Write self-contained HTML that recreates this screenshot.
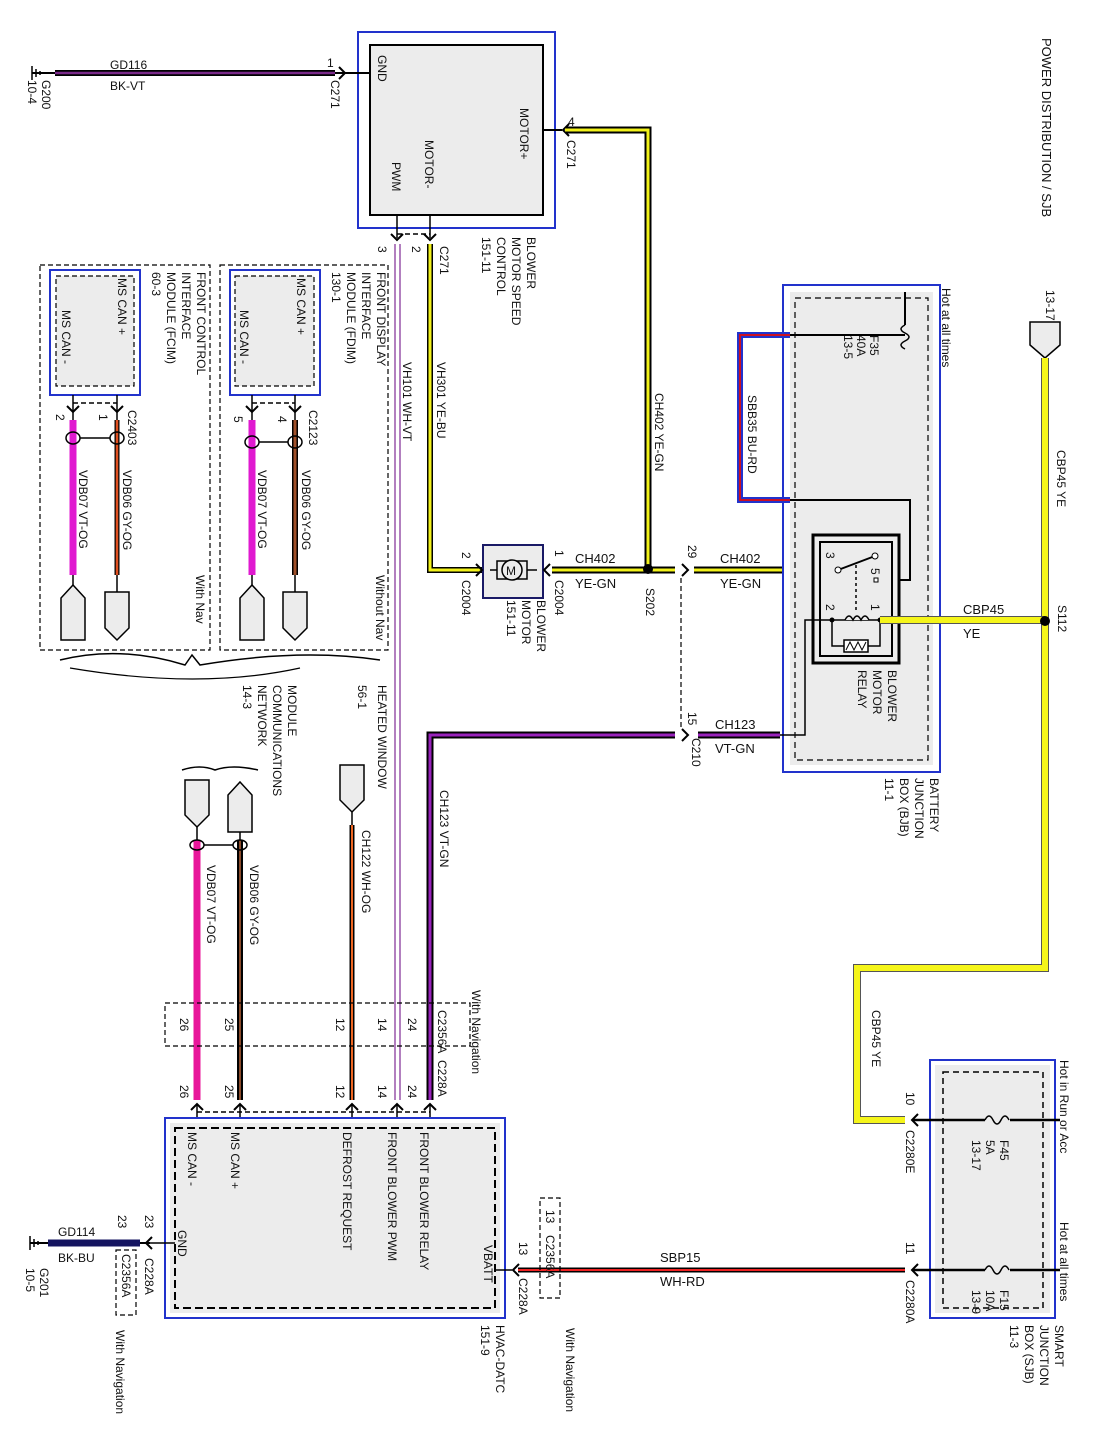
<!DOCTYPE html>
<html><head><meta charset="utf-8"><style>
html,body{margin:0;padding:0;background:#fff}
svg{display:block}
text{font-family:"Liberation Sans",sans-serif;font-size:12px;fill:#111}
.b{font-size:13px}
</style></head><body>
<svg width="1093" height="1449" viewBox="0 0 1093 1449" xmlns="http://www.w3.org/2000/svg">
<defs>
<g id="arr"><path d="M-6,-6 L0,0 L6,-6" fill="none" stroke="#000" stroke-width="2"/></g>
</defs>

<rect x="358" y="32" width="197" height="196" fill="#fff" stroke="#2233cc" stroke-width="2"/>
<rect x="370" y="45" width="173" height="170" fill="#ececec" stroke="#000" stroke-width="2"/>
<line x1="32" y1="66" x2="32" y2="80" stroke="#000" stroke-width="1.5"/>
<line x1="36" y1="69" x2="36" y2="77" stroke="#000" stroke-width="1.5"/>
<line x1="40" y1="71" x2="40" y2="75" stroke="#000" stroke-width="1.5"/>
<line x1="32" y1="73" x2="60" y2="73" stroke="#000" stroke-width="2"/>
<line x1="55" y1="73" x2="335" y2="73" stroke="#000" stroke-width="6"/>
<line x1="55" y1="73" x2="335" y2="73" stroke="#7a2a8a" stroke-width="2.5"/>
<line x1="335" y1="73" x2="370" y2="73" stroke="#000" stroke-width="2"/>
<path d="M339,67 L345,73 L339,79" fill="none" stroke="#000" stroke-width="2"/>
<text x="110" y="69">GD116</text><text x="110" y="90">BK-VT</text>
<text x="327" y="67">1</text>
<text transform="translate(42,80) rotate(90)">G200</text>
<text transform="translate(28,80) rotate(90)">10-4</text>
<text transform="translate(331,80) rotate(90)">C271</text>
<text transform="translate(378,55) rotate(90)">GND</text>
<text transform="translate(520,108) rotate(90)">MOTOR+</text>
<text transform="translate(425,140) rotate(90)">MOTOR-</text>
<text transform="translate(392,162) rotate(90)">PWM</text>
<text transform="translate(527,237) rotate(90)">BLOWER</text>
<text transform="translate(512,237) rotate(90)">MOTOR SPEED</text>
<text transform="translate(497,237) rotate(90)">CONTROL</text>
<text transform="translate(482,237) rotate(90)">151-11</text>
<line x1="543" y1="130" x2="562" y2="130" stroke="#000" stroke-width="2"/>
<path d="M569,124 L563,130 L569,136" fill="none" stroke="#000" stroke-width="2"/>
<path d="M565,130 L648,130 L648,568" fill="none" stroke="#000" stroke-width="7"/>
<path d="M565,130 L648,130 L648,568" fill="none" stroke="#f2f21a" stroke-width="3"/>
<text x="568" y="126">4</text>
<text transform="translate(567,140) rotate(90)">C271</text>
<text transform="translate(655,393) rotate(90)">CH402   YE-GN</text>
<line x1="397" y1="215" x2="397" y2="238" stroke="#000" stroke-width="1.5"/>
<line x1="430" y1="215" x2="430" y2="238" stroke="#000" stroke-width="1.5"/>
<use href="#arr" x="397" y="240"/><use href="#arr" x="430" y="240"/>
<line x1="397" y1="234" x2="430" y2="234" stroke="#000" stroke-width="1.5" stroke-dasharray="5,3"/>
<text transform="translate(378,246) rotate(90)">3</text>
<text transform="translate(412,246) rotate(90)">2</text>
<text transform="translate(440,246) rotate(90)">C271</text>
<path d="M430,244 L430,570 L483,570" fill="none" stroke="#000" stroke-width="6"/>
<path d="M430,244 L430,570 L483,570" fill="none" stroke="#f2f21a" stroke-width="3"/>
<text transform="translate(437,362) rotate(90)">VH301   YE-BU</text>
<line x1="395" y1="244" x2="395" y2="1100" stroke="#9955aa" stroke-width="1.5"/>
<line x1="400" y1="244" x2="400" y2="1100" stroke="#9955aa" stroke-width="1.5"/>
<text transform="translate(403,362) rotate(90)">VH101   WH-VT</text>

<rect x="220" y="265" width="168" height="385" fill="none" stroke="#000" stroke-width="1.2" stroke-dasharray="5,3"/>
<rect x="40" y="265" width="170" height="385" fill="none" stroke="#000" stroke-width="1.2" stroke-dasharray="5,3"/>
<rect x="230" y="270" width="90" height="125" fill="#fff" stroke="#2233cc" stroke-width="2"/>
<rect x="235" y="276" width="79" height="110" fill="#ececec" stroke="#000" stroke-width="1.2" stroke-dasharray="5,3"/>
<rect x="50" y="270" width="90" height="125" fill="#fff" stroke="#2233cc" stroke-width="2"/>
<rect x="56" y="276" width="78" height="110" fill="#ececec" stroke="#000" stroke-width="1.2" stroke-dasharray="5,3"/>
<text transform="translate(297,278) rotate(90)">MS CAN +</text>
<text transform="translate(240,310) rotate(90)">MS CAN -</text>
<text transform="translate(118,278) rotate(90)">MS CAN +</text>
<text transform="translate(62,310) rotate(90)">MS CAN -</text>
<text transform="translate(377,272) rotate(90)">FRONT DISPLAY</text>
<text transform="translate(362,272) rotate(90)">INTERFACE</text>
<text transform="translate(347,272) rotate(90)">MODULE (FDIM)</text>
<text transform="translate(332,272) rotate(90)">130-1</text>
<text transform="translate(197,272) rotate(90)">FRONT CONTROL</text>
<text transform="translate(182,272) rotate(90)">INTERFACE</text>
<text transform="translate(167,272) rotate(90)">MODULE (FCIM)</text>
<text transform="translate(152,272) rotate(90)">60-3</text>
<g stroke="#000" stroke-width="1.5" fill="none">
<line x1="252" y1="395" x2="252" y2="585"/><line x1="295" y1="395" x2="295" y2="592"/>
<line x1="73" y1="395" x2="73" y2="585"/><line x1="117" y1="395" x2="117" y2="592"/>
<line x1="252" y1="403" x2="295" y2="403" stroke-dasharray="5,3"/>
<line x1="73" y1="403" x2="117" y2="403" stroke-dasharray="5,3"/>
</g>
<use href="#arr" x="252" y="412"/><use href="#arr" x="295" y="412"/>
<use href="#arr" x="73" y="412"/><use href="#arr" x="117" y="412"/>
<line x1="252" y1="420" x2="252" y2="575" stroke="#e01ad0" stroke-width="7"/>
<line x1="295" y1="420" x2="295" y2="575" stroke="#000" stroke-width="6"/>
<line x1="295" y1="420" x2="295" y2="575" stroke="#a0502a" stroke-width="3"/>
<line x1="73" y1="420" x2="73" y2="575" stroke="#e01ad0" stroke-width="7"/>
<line x1="117" y1="420" x2="117" y2="575" stroke="#000" stroke-width="5"/>
<line x1="117" y1="420" x2="117" y2="575" stroke="#e05020" stroke-width="2.5"/>
<g fill="none" stroke="#000" stroke-width="1.5">
<ellipse cx="252" cy="442" rx="7" ry="6"/><ellipse cx="295" cy="442" rx="7" ry="6"/><path d="M259,442 L288,442"/>
<ellipse cx="73" cy="438" rx="7" ry="6"/><ellipse cx="117" cy="438" rx="7" ry="6"/><path d="M80,438 L110,438"/>
</g>
<text transform="translate(309,410) rotate(90)">C2123</text>
<text transform="translate(278,416) rotate(90)">4</text>
<text transform="translate(234,416) rotate(90)">5</text>
<text transform="translate(128,410) rotate(90)">C2403</text>
<text transform="translate(99,414) rotate(90)">1</text>
<text transform="translate(56,414) rotate(90)">2</text>
<text transform="translate(302,470) rotate(90)">VDB06   GY-OG</text>
<text transform="translate(258,470) rotate(90)">VDB07   VT-OG</text>
<text transform="translate(123,470) rotate(90)">VDB06   GY-OG</text>
<text transform="translate(79,470) rotate(90)">VDB07   VT-OG</text>
<text transform="translate(376,575) rotate(90)">Without Nav</text>
<text transform="translate(196,575) rotate(90)">With Nav</text>
<g fill="#ececec" stroke="#000" stroke-width="1.5">
<path d="M240,640 L240,598 L252,585 L264,598 L264,640 Z"/>
<path d="M283,592 L307,592 L307,628 L295,640 L283,628 Z"/>
<path d="M61,640 L61,598 L73,585 L85,598 L85,640 Z"/>
<path d="M105,592 L129,592 L129,628 L117,640 L105,628 Z"/>
</g>
<path d="M60,660 Q120,645 185,665 L192,655 L200,665 Q300,648 380,660" fill="none" stroke="#000" stroke-width="1.5"/>
<path d="M70,668 Q200,690 300,668" fill="none" stroke="#000" stroke-width="1.2"/>

<rect x="483" y="545" width="60" height="53" fill="#ececec" stroke="#1a1a66" stroke-width="2"/>
<line x1="490" y1="570" x2="537" y2="570" stroke="#000" stroke-width="1.5"/>
<rect x="497" y="561" width="30" height="18" fill="#ececec" stroke="#000" stroke-width="1.5"/>
<circle cx="512" cy="570" r="10" fill="#ececec" stroke="#000" stroke-width="1.5"/>
<text x="506" y="575">M</text>
<path d="M476,564 L482,570 L476,576" fill="none" stroke="#000" stroke-width="2"/>
<path d="M550,564 L544,570 L550,576" fill="none" stroke="#000" stroke-width="2"/>
<text transform="translate(462,552) rotate(90)">2</text>
<text transform="translate(462,580) rotate(90)">C2004</text>
<text transform="translate(555,550) rotate(90)">1</text>
<text transform="translate(555,580) rotate(90)">C2004</text>
<text transform="translate(537,600) rotate(90)">BLOWER</text>
<text transform="translate(522,600) rotate(90)">MOTOR</text>
<text transform="translate(507,600) rotate(90)">151-11</text>
<path d="M552,570 L675,570" stroke="#000" stroke-width="7"/>
<path d="M552,570 L675,570" stroke="#f2f21a" stroke-width="3"/>
<circle cx="648" cy="569" r="5" fill="#000"/>
<text x="575" y="563" class="b">CH402</text><text x="575" y="588" class="b">YE-GN</text>
<text transform="translate(646,588) rotate(90)">S202</text>
<path d="M682,564 L688,570 L682,576" fill="none" stroke="#000" stroke-width="2"/>
<text transform="translate(688,545) rotate(90)">29</text>
<path d="M694,570 L818,570" stroke="#000" stroke-width="7"/>
<path d="M694,570 L818,570" stroke="#f2f21a" stroke-width="3"/>
<line x1="818" y1="570" x2="840" y2="570" stroke="#000" stroke-width="1.5"/>
<text x="720" y="563" class="b">CH402</text><text x="720" y="588" class="b">YE-GN</text>
<line x1="681" y1="578" x2="681" y2="727" stroke="#000" stroke-width="1.2" stroke-dasharray="5,3"/>

<rect x="783" y="285" width="157" height="487" fill="#fff" stroke="#2233cc" stroke-width="2"/>
<rect x="790" y="292" width="143" height="473" fill="#ececec" stroke="none"/>
<rect x="795" y="298" width="133" height="462" fill="none" stroke="#000" stroke-width="1.2" stroke-dasharray="6,4"/>
<text transform="translate(942,288) rotate(90)">Hot at all times</text>
<line x1="905" y1="292" x2="905" y2="335" stroke="#000" stroke-width="2"/>
<rect x="897" y="325" width="14" height="25" fill="#ececec"/>
<path d="M905,325 q-8,4 0,8 q8,4 0,8 q-8,4 0,8" fill="none" stroke="#000" stroke-width="1.5"/>
<text transform="translate(870,335) rotate(90)">F35</text>
<text transform="translate(857,335) rotate(90)">40A</text>
<text transform="translate(844,335) rotate(90)">13-5</text>
<line x1="905" y1="335" x2="790" y2="335" stroke="#000" stroke-width="2"/>
<path d="M790,335 L740,335 L740,500 L790,500" fill="none" stroke="#2233cc" stroke-width="6"/>
<path d="M790,335 L740,335 L740,500 L790,500" fill="none" stroke="#cc1122" stroke-width="2"/>
<text transform="translate(748,395) rotate(90)">SBB35   BU-RD</text>
<path d="M790,500 L910,500 L910,580 L885,580" fill="none" stroke="#000" stroke-width="2"/>
<rect x="813" y="535" width="86" height="128" fill="#ececec" stroke="#000" stroke-width="3"/>
<rect x="820" y="542" width="72" height="114" fill="#ececec" stroke="#000" stroke-width="2"/>
<line x1="838" y1="570" x2="875" y2="556" stroke="#000" stroke-width="2"/>
<circle cx="838" cy="570" r="3" fill="#fff" stroke="#000"/>
<circle cx="875" cy="556" r="3" fill="#fff" stroke="#000"/>
<rect x="874" y="578" width="4" height="4" fill="#fff" stroke="#000"/>
<line x1="856" y1="565" x2="856" y2="612" stroke="#000" stroke-width="1.5" stroke-dasharray="3,3"/>
<path d="M832,620 L880,620 M832,620 L832,646 L880,646 L880,620" fill="none" stroke="#000" stroke-width="1.5"/>
<path d="M845,620 q4,-8 8,0 q4,-8 8,0 q4,-8 8,0" fill="#ececec" stroke="#000" stroke-width="1.5"/>
<rect x="844" y="640" width="24" height="12" fill="#fff" stroke="#000" stroke-width="1.5"/>
<path d="M846,650 l4,-8 l4,8 l4,-8 l4,8 l4,-8" fill="none" stroke="#000" stroke-width="1"/>
<circle cx="832" cy="620" r="2.5" fill="#000"/><circle cx="880" cy="620" r="2.5" fill="#000"/>
<text transform="translate(826,552) rotate(90)">3</text>
<text transform="translate(871,568) rotate(90)">5</text>
<text transform="translate(826,604) rotate(90)">2</text>
<text transform="translate(871,604) rotate(90)">1</text>
<path d="M832,620 L805,620 L805,735 L700,735" fill="none" stroke="#000" stroke-width="1.5"/>
<text transform="translate(888,670) rotate(90)">BLOWER</text>
<text transform="translate(873,670) rotate(90)">MOTOR</text>
<text transform="translate(858,670) rotate(90)">RELAY</text>
<text transform="translate(930,778) rotate(90)">BATTERY</text>
<text transform="translate(915,778) rotate(90)">JUNCTION</text>
<text transform="translate(900,778) rotate(90)">BOX (BJB)</text>
<text transform="translate(885,778) rotate(90)">11-1</text>
<path d="M1030,322 L1060,322 L1060,345 L1045,358 L1030,345 Z" fill="#ececec" stroke="#000" stroke-width="1.5"/>
<text transform="translate(1046,290) rotate(90)">13-17</text>
<path d="M1045,358 L1045,968 L857,968 L857,1120 L905,1120" fill="none" stroke="#555" stroke-width="8"/>
<path d="M1045,358 L1045,968 L857,968 L857,1120 L905,1120" fill="none" stroke="#f5f51a" stroke-width="6"/>
<path d="M1045,620 L880,620" stroke="#555" stroke-width="8"/>
<path d="M1045,620 L880,620" stroke="#f5f51a" stroke-width="6"/>
<circle cx="1045" cy="621" r="5" fill="#000"/>
<text transform="translate(1057,450) rotate(90)">CBP45   YE</text>
<text transform="translate(1058,605) rotate(90)">S112</text>
<text x="963" y="614" class="b">CBP45</text><text x="963" y="638" class="b">YE</text>
<text transform="translate(872,1010) rotate(90)">CBP45   YE</text>
<text transform="translate(1042,38) rotate(90)" class="b">POWER DISTRIBUTION / SJB</text>
<path d="M682,729 L688,735 L682,741" fill="none" stroke="#000" stroke-width="2"/>
<text transform="translate(688,712) rotate(90)">15</text>
<text transform="translate(692,738) rotate(90)">C210</text>
<text x="715" y="729" class="b">CH123</text><text x="715" y="753" class="b">VT-GN</text>
<path d="M675,735 L430,735 L430,1100" fill="none" stroke="#000" stroke-width="7"/>
<path d="M675,735 L430,735 L430,1100" fill="none" stroke="#9922bb" stroke-width="3"/>
<line x1="698" y1="735" x2="780" y2="735" stroke="#000" stroke-width="7"/>
<line x1="698" y1="735" x2="780" y2="735" stroke="#9922bb" stroke-width="3"/>
<text transform="translate(440,790) rotate(90)">CH123   VT-GN</text>
<path d="M340,765 L364,765 L364,800 L352,812 L340,800 Z" fill="#ececec" stroke="#000" stroke-width="1.5"/>
<line x1="352" y1="812" x2="352" y2="825" stroke="#000" stroke-width="1.5"/>
<line x1="352" y1="825" x2="352" y2="1100" stroke="#000" stroke-width="5"/>
<line x1="352" y1="825" x2="352" y2="1100" stroke="#ee6622" stroke-width="2"/>
<text transform="translate(378,685) rotate(90)">HEATED WINDOW</text>
<text transform="translate(358,685) rotate(90)">56-1</text>
<text transform="translate(362,830) rotate(90)">CH122   WH-OG</text>
<text transform="translate(288,685) rotate(90)">MODULE</text>
<text transform="translate(273,685) rotate(90)">COMMUNICATIONS</text>
<text transform="translate(258,685) rotate(90)">NETWORK</text>
<text transform="translate(243,685) rotate(90)">14-3</text>
<path d="M182,770 Q200,764 215,770 Q232,764 258,770" fill="none" stroke="#000" stroke-width="1.5"/>
<path d="M185,780 L209,780 L209,815 L197,827 L185,815 Z" fill="#ececec" stroke="#000" stroke-width="1.5"/>
<path d="M228,832 L228,795 L240,782 L252,795 L252,832 Z" fill="#ececec" stroke="#000" stroke-width="1.5"/>
<line x1="197" y1="827" x2="197" y2="840" stroke="#000" stroke-width="1.5"/>
<line x1="240" y1="832" x2="240" y2="840" stroke="#000" stroke-width="1.5"/>
<line x1="197" y1="840" x2="197" y2="1100" stroke="#e8179a" stroke-width="7"/>
<line x1="240" y1="840" x2="240" y2="1100" stroke="#000" stroke-width="6"/>
<line x1="240" y1="840" x2="240" y2="1100" stroke="#8a4a2a" stroke-width="2"/>
<g fill="none" stroke="#000" stroke-width="1.5"><ellipse cx="197" cy="845" rx="7" ry="5"/><ellipse cx="240" cy="845" rx="7" ry="5"/><path d="M204,845 L233,845"/></g>
<text transform="translate(250,865) rotate(90)">VDB06   GY-OG</text>
<text transform="translate(207,865) rotate(90)">VDB07   VT-OG</text>
<rect x="165" y="1003" width="305" height="43" fill="none" stroke="#000" stroke-width="1.2" stroke-dasharray="5,3"/>
<text transform="translate(472,990) rotate(90)">With Navigation</text>
<text transform="translate(438,1010) rotate(90)">C2356A</text>
<text transform="translate(438,1060) rotate(90)">C228A</text>
<text transform="translate(408,1018) rotate(90)">24</text><text transform="translate(378,1018) rotate(90)">14</text>
<text transform="translate(336,1018) rotate(90)">12</text><text transform="translate(225,1018) rotate(90)">25</text>
<text transform="translate(180,1018) rotate(90)">26</text>
<text transform="translate(408,1085) rotate(90)">24</text><text transform="translate(378,1085) rotate(90)">14</text>
<text transform="translate(336,1085) rotate(90)">12</text><text transform="translate(225,1085) rotate(90)">25</text>
<text transform="translate(180,1085) rotate(90)">26</text>
<g fill="none" stroke="#000" stroke-width="2">
<path d="M424,1110 L430,1104 L436,1110"/><path d="M391,1110 L397,1104 L403,1110"/>
<path d="M346,1110 L352,1104 L358,1110"/><path d="M234,1110 L240,1104 L246,1110"/>
<path d="M191,1110 L197,1104 L203,1110"/>
</g>
<g stroke="#000" stroke-width="1.5">
<line x1="430" y1="1104" x2="430" y2="1130"/><line x1="397" y1="1104" x2="397" y2="1130"/>
<line x1="352" y1="1104" x2="352" y2="1130"/><line x1="240" y1="1104" x2="240" y2="1130"/>
<line x1="197" y1="1104" x2="197" y2="1130"/>
<line x1="197" y1="1112" x2="430" y2="1112" stroke-dasharray="5,3"/>
</g>
<rect x="165" y="1118" width="340" height="200" fill="#fff" stroke="#2233cc" stroke-width="2"/>
<rect x="170" y="1123" width="330" height="190" fill="#ececec"/>
<rect x="175" y="1128" width="320" height="180" fill="none" stroke="#000" stroke-width="2" stroke-dasharray="8,4"/>
<text transform="translate(420,1132) rotate(90)">FRONT BLOWER RELAY</text>
<text transform="translate(388,1132) rotate(90)">FRONT BLOWER PWM</text>
<text transform="translate(343,1132) rotate(90)">DEFROST REQUEST</text>
<text transform="translate(231,1132) rotate(90)">MS CAN +</text>
<text transform="translate(188,1132) rotate(90)">MS CAN -</text>
<text transform="translate(178,1230) rotate(90)">GND</text>
<text transform="translate(484,1245) rotate(90)">VBATT</text>
<text transform="translate(496,1325) rotate(90)">HVAC-DATC</text>
<text transform="translate(481,1325) rotate(90)">151-9</text>
<line x1="495" y1="1270" x2="512" y2="1270" stroke="#000" stroke-width="1.5"/>
<path d="M519,1264 L513,1270 L519,1276" fill="none" stroke="#000" stroke-width="2"/>
<line x1="518" y1="1270" x2="905" y2="1270" stroke="#000" stroke-width="5"/>
<line x1="518" y1="1270" x2="905" y2="1270" stroke="#ee2222" stroke-width="2"/>
<text transform="translate(519,1242) rotate(90)">13</text>
<text transform="translate(519,1278) rotate(90)">C228A</text>
<rect x="540" y="1198" width="20" height="100" fill="none" stroke="#000" stroke-width="1.2" stroke-dasharray="5,3"/>
<text transform="translate(546,1210) rotate(90)">13</text>
<text transform="translate(546,1235) rotate(90)">C2356A</text>
<text transform="translate(566,1328) rotate(90)">With Navigation</text>
<text x="660" y="1262" class="b">SBP15</text><text x="660" y="1286" class="b">WH-RD</text>
<rect x="930" y="1060" width="125" height="258" fill="#fff" stroke="#2233cc" stroke-width="2"/>
<rect x="935" y="1065" width="115" height="248" fill="#ececec"/>
<rect x="943" y="1072" width="100" height="236" fill="none" stroke="#000" stroke-width="1.5" stroke-dasharray="6,4"/>
<path d="M918,1114 L912,1120 L918,1126" fill="none" stroke="#000" stroke-width="2"/>
<path d="M918,1264 L912,1270 L918,1276" fill="none" stroke="#000" stroke-width="2"/>
<line x1="912" y1="1120" x2="1060" y2="1120" stroke="#000" stroke-width="2.5"/>
<line x1="912" y1="1270" x2="1060" y2="1270" stroke="#000" stroke-width="2.5"/>
<rect x="985" y="1112" width="25" height="16" fill="#ececec"/>
<rect x="985" y="1262" width="25" height="16" fill="#ececec"/>
<path d="M985,1120 q4,-8 8,0 q4,8 8,0 q4,-8 8,0" fill="none" stroke="#000" stroke-width="1.5"/>
<path d="M985,1270 q4,-8 8,0 q4,8 8,0 q4,-8 8,0" fill="none" stroke="#000" stroke-width="1.5"/>
<text transform="translate(1000,1140) rotate(90)">F45</text>
<text transform="translate(986,1140) rotate(90)">5A</text>
<text transform="translate(972,1140) rotate(90)">13-17</text>
<text transform="translate(1000,1290) rotate(90)">F15</text>
<text transform="translate(986,1290) rotate(90)">10A</text>
<text transform="translate(972,1290) rotate(90)">13-9</text>
<text transform="translate(906,1092) rotate(90)">10</text>
<text transform="translate(906,1130) rotate(90)">C2280E</text>
<text transform="translate(906,1242) rotate(90)">11</text>
<text transform="translate(906,1280) rotate(90)">C2280A</text>
<text transform="translate(1060,1060) rotate(90)">Hot in Run or Acc</text>
<text transform="translate(1060,1222) rotate(90)">Hot at all times</text>
<text transform="translate(1055,1325) rotate(90)">SMART</text>
<text transform="translate(1040,1325) rotate(90)">JUNCTION</text>
<text transform="translate(1025,1325) rotate(90)">BOX (SJB)</text>
<text transform="translate(1010,1325) rotate(90)">11-3</text>
<line x1="30" y1="1236" x2="30" y2="1250" stroke="#000" stroke-width="1.5"/>
<line x1="34" y1="1239" x2="34" y2="1247" stroke="#000" stroke-width="1.5"/>
<line x1="38" y1="1241" x2="38" y2="1245" stroke="#000" stroke-width="1.5"/>
<line x1="30" y1="1243" x2="150" y2="1243" stroke="#000" stroke-width="2"/>
<line x1="48" y1="1243" x2="140" y2="1243" stroke="#141460" stroke-width="7"/>
<path d="M152,1237 L146,1243 L152,1249" fill="none" stroke="#000" stroke-width="2"/>
<line x1="146" y1="1243" x2="175" y2="1243" stroke="#000" stroke-width="1.5"/>
<text x="58" y="1236">GD114</text><text x="58" y="1262">BK-BU</text>
<text transform="translate(118,1215) rotate(90)">23</text>
<text transform="translate(145,1215) rotate(90)">23</text>
<text transform="translate(145,1258) rotate(90)">C228A</text>
<rect x="116" y="1250" width="20" height="65" fill="none" stroke="#000" stroke-width="1.2" stroke-dasharray="5,3"/>
<text transform="translate(122,1254) rotate(90)">C2356A</text>
<text transform="translate(40,1268) rotate(90)">G201</text>
<text transform="translate(26,1268) rotate(90)">10-5</text>
<text transform="translate(116,1330) rotate(90)">With Navigation</text>
</svg>
</body></html>
